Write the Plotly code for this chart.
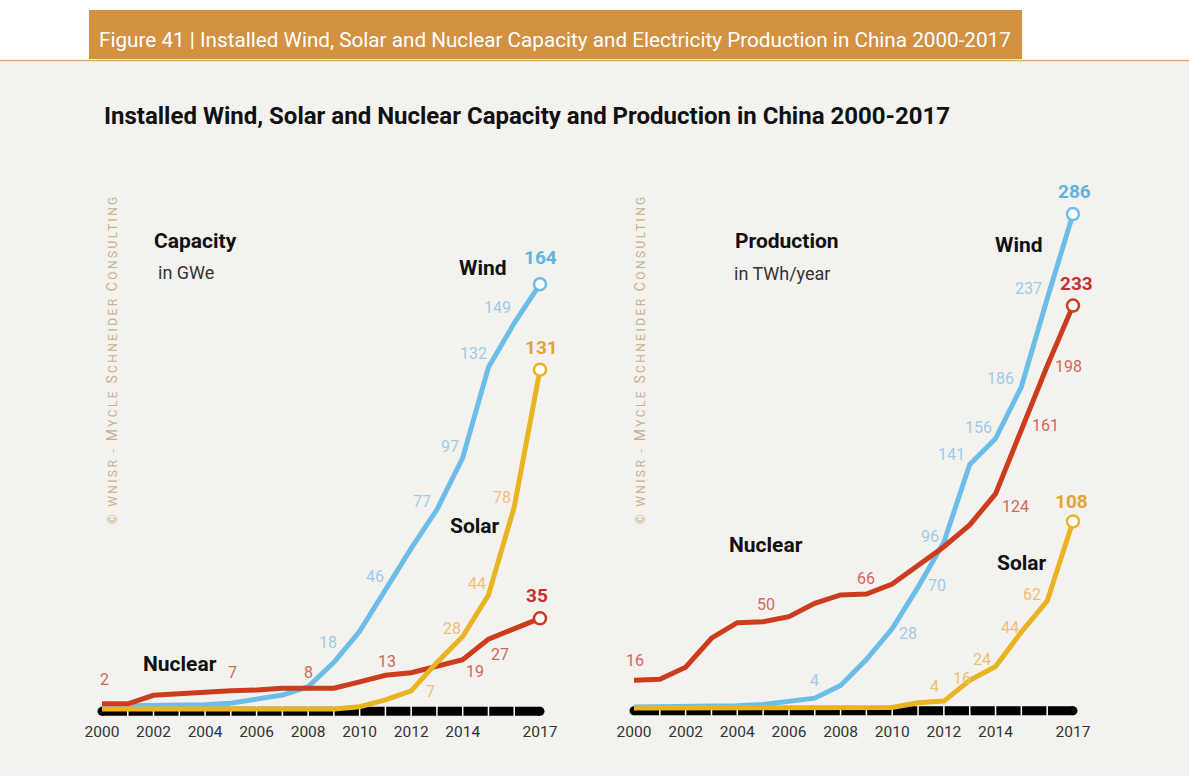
import plotly.graph_objects as go

W, H = 1189, 776

years = list(range(2000, 2018))
tick_years = [2000, 2002, 2004, 2006, 2008, 2010, 2012, 2014, 2017]

# Installed capacity, GWe
cap_wind = [1.2, 1.2, 1.3, 1.4, 1.6, 2.2, 3.7, 5.4, 8.6, 18, 30, 46, 62, 77, 97, 132, 149, 164]
cap_solar = [0, 0, 0, 0, 0, 0, 0, 0, 0, 0, 0.9, 3.5, 7, 18, 28, 44, 78, 131]
cap_nuclear = [2, 2, 5.3, 6.0, 6.6, 7, 7.3, 8, 8, 8, 10.5, 13, 14, 16.5, 19, 27, 31, 35]

# Electricity production, TWh/year
prod_wind = [0.6, 0.7, 0.9, 1.0, 1.3, 2.0, 4, 5.7, 13, 28, 46, 70, 96, 141, 156, 186, 237, 286]
prod_solar = [0, 0, 0, 0, 0, 0, 0, 0, 0, 0, 0.3, 3, 4, 16, 24, 44, 62, 108]
prod_nuclear = [16, 16.6, 23.6, 40.4, 49.4, 50, 52.9, 60.6, 65.5, 66, 71.8, 82.8, 93.4, 106, 124, 161, 198, 233]

# Years whose value is written next to the curve
cap_wind_labelled = [2009, 2011, 2013, 2014, 2015, 2016, 2017]
cap_solar_labelled = [2012, 2014, 2015, 2016, 2017]
cap_nuclear_labelled = [2000, 2005, 2008, 2011, 2014, 2015, 2017]
prod_wind_labelled = [2006, 2009, 2011, 2012, 2013, 2014, 2015, 2016, 2017]
prod_solar_labelled = [2012, 2013, 2014, 2015, 2016, 2017]
prod_nuclear_labelled = [2000, 2005, 2009, 2014, 2015, 2016, 2017]

# Pixel offsets of each value label from its point (dx right, dy down)
cap_wind_offsets = [(-6, -20), (-10, -13), (-15, -8), (-13, -11), (-15, -14), (-17, -16), (1, -27)]
cap_solar_offsets = [(19, 1), (-11, -8), (-11, -12), (-12, -9), (2, -22)]
cap_nuclear_offsets = [(3, -24), (2, -18), (0, -16), (2, -14), (12, 12), (12, 15), (-3, -23)]
prod_wind_offsets = [(26, -21), (42, -26), (19, -2), (-14, -6), (-18, -10), (-17, -11), (-21, -8), (-19, -10), (2, -23)]
prod_solar_offsets = [(-9, -15), (-8, -2), (-14, -7), (-11, -5), (-15, -6), (-1, -20)]
prod_nuclear_offsets = [(1, -20), (3, -17), (0, -16), (20, 13), (24, -4), (21, 0), (4, -22)]

WIND, SOLAR, NUCLEAR = "#6cbde8", "#e9b421", "#cd3c1c"
WIND_LBL, SOLAR_LBL, NUCLEAR_LBL = "#9fcbe8", "#efbf74", "#d3665b"
WIND_END, SOLAR_END, NUCLEAR_END = "#62b3e0", "#e2a535", "#c8302c"
BG = "#f4f2ef"
FONT = "Roboto"


def px_x(px):
    return px / W


def px_y(py):
    return 1 - py / H


fig = go.Figure()

panels = [
    dict(xa="x", ya="y", wind=cap_wind, solar=cap_solar, nuclear=cap_nuclear,
         labelled=(cap_wind_labelled, cap_nuclear_labelled, cap_solar_labelled),
         offsets=(cap_wind_offsets, cap_nuclear_offsets, cap_solar_offsets),
         bar_y=-0.9),
    dict(xa="x2", ya="y2", wind=prod_wind, solar=prod_solar, nuclear=prod_nuclear,
         labelled=(prod_wind_labelled, prod_nuclear_labelled, prod_solar_labelled),
         offsets=(prod_wind_offsets, prod_nuclear_offsets, prod_solar_offsets),
         bar_y=-1.6),
]

annotations = []
for p in panels:
    xa, ya = p["xa"], p["ya"]
    # black time bar along the base of the panel
    fig.add_trace(go.Scatter(
        x=years, y=[p["bar_y"]] * len(years), xaxis=xa, yaxis=ya, mode="lines",
        line=dict(color="#000000", width=9), hoverinfo="skip"))
    fig.add_trace(go.Scatter(
        x=[years[0], years[-1]], y=[p["bar_y"]] * 2, xaxis=xa, yaxis=ya, mode="markers",
        marker=dict(color="#000000", size=9, line=dict(width=0)), hoverinfo="skip"))
    fig.add_trace(go.Scatter(
        x=years[1:-1], y=[p["bar_y"]] * (len(years) - 2), xaxis=xa, yaxis=ya, mode="markers",
        marker=dict(symbol="line-ns", size=9, line=dict(color="#ffffff", width=1.5)),
        hoverinfo="skip"))

    # drawing order: wind, nuclear, solar
    series = [
        (p["wind"], WIND, WIND_LBL, WIND_END),
        (p["nuclear"], NUCLEAR, NUCLEAR_LBL, NUCLEAR_END),
        (p["solar"], SOLAR, SOLAR_LBL, SOLAR_END),
    ]
    for (vals, col, lcol, ecol), lab_years, offs in zip(series, p["labelled"], p["offsets"]):
        fig.add_trace(go.Scatter(
            x=years, y=vals, xaxis=xa, yaxis=ya, mode="lines",
            line=dict(color=col, width=5), hoverinfo="skip"))
        fig.add_trace(go.Scatter(
            x=[years[-1]], y=[vals[-1]], xaxis=xa, yaxis=ya, mode="markers",
            marker=dict(symbol="circle", size=12, color="#ffffff", line=dict(color=col, width=2.5)),
            hoverinfo="skip"))
        for yr, (dx, dy) in zip(lab_years, offs):
            v = vals[years.index(yr)]
            last = yr == years[-1]
            annotations.append(dict(
                x=yr, y=v, xref=xa, yref=ya, text=f"{v:g}", showarrow=False,
                xshift=dx, yshift=-dy, xanchor="center", yanchor="middle",
                font=dict(family=FONT, size=19 if last else 16,
                          color=ecol if last else lcol,
                          weight="bold" if last else "normal")))


def text(px, py, s, size, color="#111111", bold=False, anchor="left"):
    annotations.append(dict(
        x=px_x(px), y=px_y(py), xref="paper", yref="paper", text=s, showarrow=False,
        xanchor=anchor, yanchor="middle",
        font=dict(family=FONT, size=size, color=color, weight="bold" if bold else "normal")))


# Header band and chart title
text(97, 40, "Figure 41 | Installed Wind, Solar and Nuclear Capacity and Electricity Production in China 2000-2017",
     20.7, color="#ffffff")
text(102, 116, "Installed Wind, Solar and Nuclear Capacity and Production in China 2000-2017", 24, bold=True)

# Panel headings
text(152, 241, "Capacity", 21, bold=True)
text(156, 272, "in GWe", 18, color="#333333")
text(733, 241, "Production", 21, bold=True)
text(732, 273, "in TWh/year", 18, color="#333333")

# Series names
text(457, 268, "Wind", 21, bold=True)
text(448, 526, "Solar", 21, bold=True)
text(141, 664, "Nuclear", 21, bold=True)
text(993, 245, "Wind", 21, bold=True)
text(727, 545, "Nuclear", 21, bold=True)
text(995, 563, "Solar", 21, bold=True)

# Copyright watermark
wm = ('<span style="letter-spacing:2.4px">© WNISR - <span style="font-size:14px">M</span>YCLE '
      '<span style="font-size:14px">S</span>CHNEIDER <span style="font-size:14px">C</span>ONSULTING</span>')
for wx in (112, 640):
    annotations.append(dict(
        x=px_x(wx), y=px_y(359), xref="paper", yref="paper", text=wm, showarrow=False,
        textangle=-90, xanchor="center", yanchor="middle",
        font=dict(family=FONT, size=12, color="#c6b18e")))

shapes = [
    dict(type="rect", xref="paper", yref="paper", x0=0, x1=1, y0=0, y1=px_y(61),
         fillcolor=BG, line=dict(width=0), layer="below"),
    dict(type="line", xref="paper", yref="paper", x0=0, x1=1, y0=px_y(60.5), y1=px_y(60.5),
         line=dict(color="#e2ab72", width=1.5), layer="below"),
    dict(type="rect", xref="paper", yref="paper", x0=px_x(89), x1=px_x(1022), y0=px_y(59), y1=px_y(10),
         fillcolor="#d39142", line=dict(width=0), layer="below"),
]

# Year scales: 2000 -> 102 px, 2017 -> 540 px (left); 634 px -> 1073 px (right)
lx_step = (540 - 102) / 17
rx_step = (1073 - 634) / 17
axis_common = dict(showgrid=False, zeroline=False, showline=False, ticks="",
                   tickvals=tick_years, ticktext=[str(t) for t in tick_years],
                   tickfont=dict(family=FONT, size=15.5, color="#333333"), fixedrange=True)
yaxis_common = dict(visible=False, showgrid=False, zeroline=False, fixedrange=True)

fig.update_layout(
    width=W, height=H, autosize=False,
    margin=dict(l=0, r=0, t=0, b=0),
    paper_bgcolor="#ffffff", plot_bgcolor="rgba(0,0,0,0)",
    showlegend=False,
    xaxis=dict(domain=[px_x(102 - lx_step), px_x(540 + lx_step)], range=[1999, 2018],
               anchor="y", **axis_common),
    yaxis=dict(domain=[px_y(720), px_y(240)], range=[(709 - 720) / 2.59, (709 - 240) / 2.59],
               anchor="x", **yaxis_common),
    xaxis2=dict(domain=[px_x(634 - rx_step), px_x(1073 + rx_step)], range=[1999, 2018],
                anchor="y2", **axis_common),
    yaxis2=dict(domain=[px_y(720), px_y(180)], range=[(708 - 720) / 1.727, (708 - 180) / 1.727],
                anchor="x2", **yaxis_common),
    annotations=annotations,
    shapes=shapes,
)

fig.write_html("out.html")
